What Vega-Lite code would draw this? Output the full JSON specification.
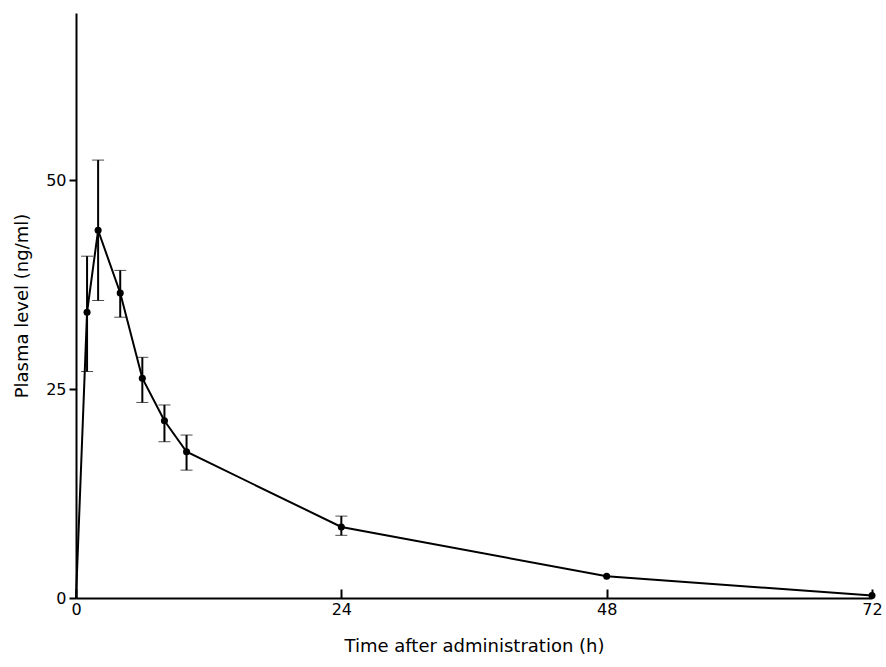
{
  "$schema": "https://vega.github.io/schema/vega-lite/v6.json",
  "width": 796,
  "height": 585,
  "autosize": {"type": "none"},
  "padding": {"left": 76, "top": 13, "right": 14, "bottom": 69},
  "background": "white",
  "config": {
    "view": {"stroke": null},
    "font": "DejaVu Sans",
    "axis": {"grid": false, "domainColor": "black", "domainWidth": 2, "tickColor": "black", "tickWidth": 2, "labelColor": "black", "titleColor": "black", "labelFont": "DejaVu Sans", "titleFont": "DejaVu Sans", "titleFontWeight": "normal"}
  },
  "data": {
    "values": [
      {"t": 0, "conc": 0},
      {"t": 1, "conc": 34.2, "lo": 27.1, "hi": 40.9},
      {"t": 2, "conc": 44.0, "lo": 35.6, "hi": 52.4},
      {"t": 4, "conc": 36.5, "lo": 33.6, "hi": 39.2},
      {"t": 6, "conc": 26.3, "lo": 23.4, "hi": 28.8},
      {"t": 8, "conc": 21.2, "lo": 18.7, "hi": 23.1},
      {"t": 10, "conc": 17.5, "lo": 15.3, "hi": 19.5},
      {"t": 24, "conc": 8.5, "lo": 7.5, "hi": 9.8},
      {"t": 48, "conc": 2.6},
      {"t": 72, "conc": 0.3}
    ]
  },
  "encoding": {
    "x": {
      "field": "t", "type": "quantitative",
      "scale": {"domain": [0, 72], "nice": false, "zero": true},
      "axis": {"values": [0, 24, 48, 72], "title": "Time after administration (h)", "tickSize": -9, "labelPadding": 12, "labelFontSize": 16, "titleFontSize": 18, "titlePadding": 20, "labelFlush": false}
    },
    "y": {
      "field": "conc", "type": "quantitative",
      "scale": {"domain": [0, 70], "nice": false},
      "axis": {"values": [0, 25, 50], "title": "Plasma level (ng/ml)", "tickSize": 7, "labelPadding": 3, "labelFontSize": 16, "titleFontSize": 18, "titlePadding": 14}
    }
  },
  "layer": [
    {"mark": {"type": "line", "color": "black", "strokeWidth": 2}},
    {
      "transform": [{"filter": "datum.t > 0"}],
      "mark": {"type": "point", "filled": true, "color": "black", "opacity": 1, "size": 50}
    },
    {
      "transform": [{"filter": "isValid(datum.lo)"}],
      "mark": {"type": "errorbar", "ticks": {"size": 12, "color": "black", "strokeWidth": 2}, "rule": {"color": "black", "strokeWidth": 2}},
      "encoding": {
        "y": {"field": "lo", "type": "quantitative"},
        "y2": {"field": "hi"}
      }
    }
  ]
}
